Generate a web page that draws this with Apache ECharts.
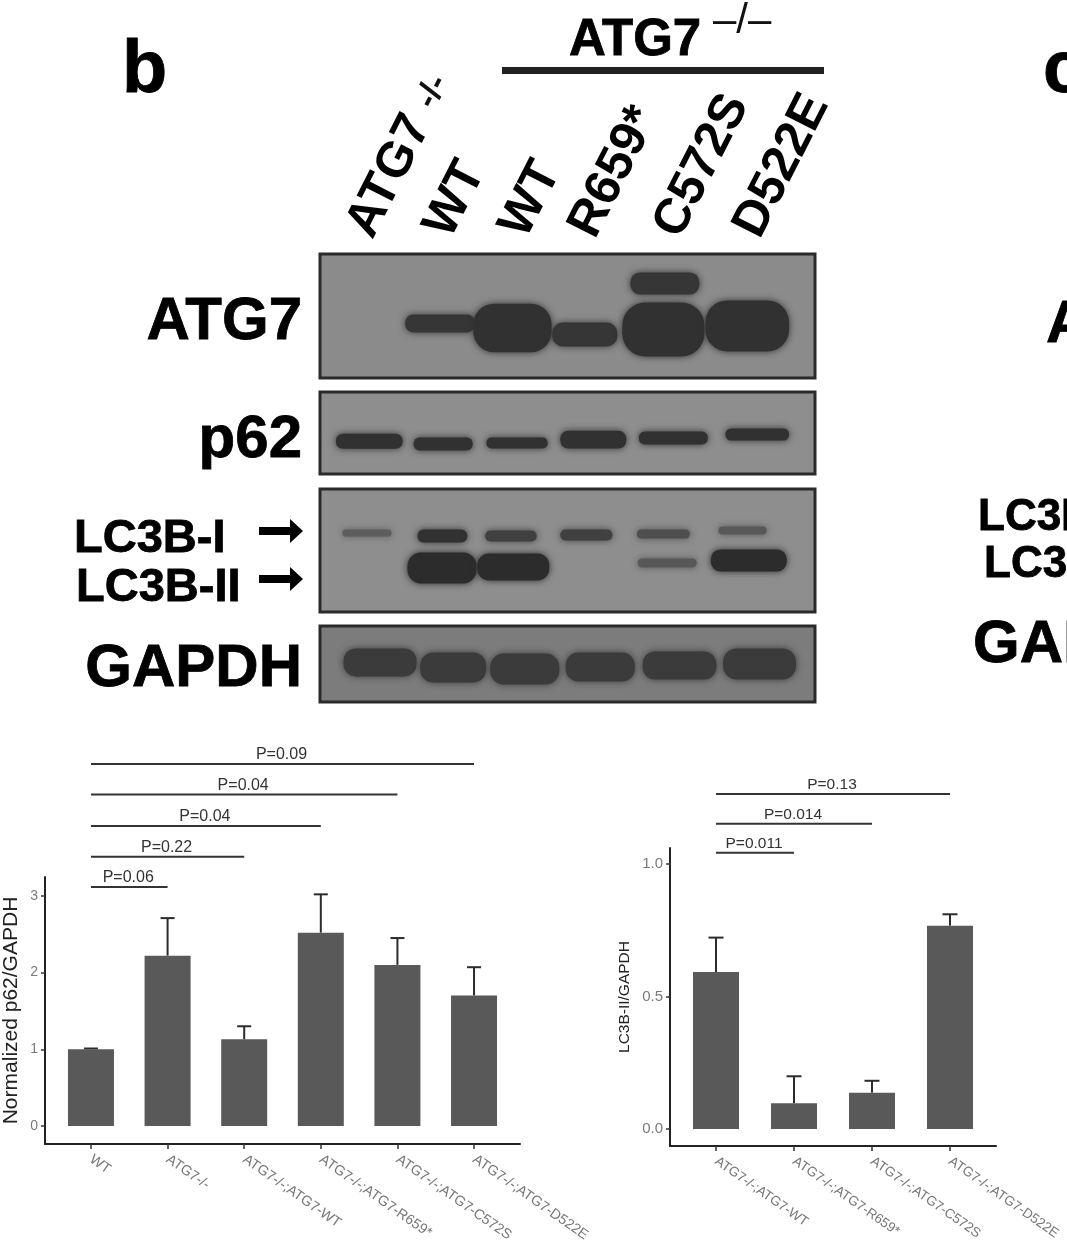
<!DOCTYPE html>
<html><head><meta charset="utf-8">
<script src="https://cdn.jsdelivr.net/npm/echarts@6/dist/echarts.min.js"></script>
<style>html,body{margin:0;padding:0;background:#fff}#c{width:1067px;height:1248px;filter:blur(0.55px)}</style></head>
<body><div id="c"></div>
<script>
// ---- data ----
const laneLabels = ['ATG7 -/-','WT','WT','R659*','C572S','D522E'];
const laneLabelAt = [-0.13,0.88,1.86,2.76,3.86,4.90];

// western-blot bands: lane position, migration (0 top..1 bottom of panel), breadth, thickness, tone
const atg7Lane  = [0.91,1.85,2.79,3.81,3.83,4.90];
const atg7Pos   = [0.56,0.597,0.649,0.609,0.238,0.58];
const atg7Width = [0.92,1.03,0.86,1.08,0.91,1.10];
const atg7Thick = [0.153,0.40,0.20,0.444,0.185,0.42];
const atg7Tone  = [0.9,0.95,0.9,0.95,0.9,0.95];

const p62Lane  = [-0.01,0.95,1.91,2.90,3.94,5.03];
const p62Pos   = [0.60,0.634,0.622,0.58,0.56,0.518];
const p62Width = [0.88,0.78,0.81,0.87,0.91,0.84];
const p62Thick = [0.195,0.17,0.146,0.23,0.17,0.16];
const p62Tone  = [0.95,0.95,0.95,0.95,0.95,0.95];

const lc3Lane  = [-0.04,0.94,1.83,2.81,3.81,4.84,0.935,1.86,3.86,4.92];
const lc3Pos   = [0.358,0.382,0.382,0.374,0.366,0.337,0.642,0.634,0.602,0.581];
const lc3Width = [0.65,0.66,0.68,0.69,0.70,0.64,0.91,0.95,0.78,1.0];
const lc3Thick = [0.065,0.114,0.098,0.098,0.081,0.073,0.26,0.228,0.081,0.187];
const lc3Tone  = [0.5,0.95,0.8,0.8,0.65,0.55,1.0,1.0,0.55,1.0];

const gapdhLane  = [0.13,1.08,2.01,2.99,4.02,5.06];
const gapdhPos   = [0.48,0.546,0.566,0.54,0.52,0.50];
const gapdhWidth = [0.96,0.87,0.91,0.91,0.97,0.96];
const gapdhThick = [0.38,0.41,0.42,0.395,0.38,0.42];
const gapdhTone  = [0.85,0.85,0.85,0.85,0.85,0.85];

// bar chart 1
const p62Categories = ['WT','ATG7-/-','ATG7-/-;ATG7-WT','ATG7-/-;ATG7-R659*','ATG7-/-;ATG7-C572S','ATG7-/-;ATG7-D522E'];
const p62Values = [1.0,2.22,1.13,2.52,2.10,1.70];
const p62Upper  = [1.01,2.71,1.30,3.02,2.45,2.07];
const p62YTicks = [0,1,2,3];
const p62BracketTo = [1,2,3,4,5];
const p62BracketLevel = [3.116,3.51,3.91,4.32,4.72];
const p62BracketText = ['P=0.06','P=0.22','P=0.04','P=0.04','P=0.09'];

// bar chart 2
const lc3Categories = ['ATG7-/-;ATG7-WT','ATG7-/-;ATG7-R659*','ATG7-/-;ATG7-C572S','ATG7-/-;ATG7-D522E'];
const lc3Values = [0.592,0.097,0.137,0.767];
const lc3Upper  = [0.722,0.199,0.182,0.81];
const lc3YTicks = [0,0.5,1.0];
const lc3BracketTo = [1,2,3];
const lc3BracketLevel = [1.042,1.151,1.264];
const lc3BracketText = ['P=0.011','P=0.014','P=0.13'];

// ---- helpers ----
const SANS = '"Liberation Sans", Arial, sans-serif';
function toneColor(t){ const v = Math.round(142 - t*(142-44)); return `rgb(${v},${v},${v})`; }

function blotSeries(idx, lane, pos, width, thick, tone){
  return {
    type:'custom', xAxisIndex:idx, yAxisIndex:idx, silent:true,
    data: lane.map((l,i)=>[l,pos[i]]),
    renderItem(params, api){
      const i = params.dataIndex;
      const c = api.coord([lane[i],pos[i]]);
      const s = api.size([width[i],thick[i]]);
      const col = toneColor(tone[i]);
      return {type:'rect',
        shape:{x:c[0]-s[0]/2+0.5,y:c[1]-s[1]/2+0.5,width:s[0]-1,height:s[1]-1,r:Math.min(s[0],s[1])*0.42},
        style:{fill:col,shadowBlur:7,shadowColor:col}};
    }
  };
}
function errSeries(idx, vals, upper, capHalf){
  return {
    type:'custom', xAxisIndex:idx, yAxisIndex:idx, silent:true, clip:false, z:1,
    data: vals.map((v,i)=>[i,upper[i]]),
    renderItem(params, api){
      const i = params.dataIndex;
      const a = api.coord([i,vals[i]]), b = api.coord([i,upper[i]]);
      const st = {stroke:'#2b2b2b',lineWidth:2,fill:null};
      return {type:'group',children:[
        {type:'line',shape:{x1:a[0],y1:a[1],x2:b[0],y2:b[1]},style:st},
        {type:'line',shape:{x1:b[0]-capHalf,y1:b[1],x2:b[0]+capHalf,y2:b[1]},style:st}
      ]};
    }
  };
}
function bracketSeries(idx, to, level, text, size){
  return {
    type:'custom', xAxisIndex:idx, yAxisIndex:idx, silent:true, clip:false,
    data: to.map((t,i)=>[t,level[i]]),
    renderItem(params, api){
      const i = params.dataIndex;
      const a = api.coord([0,level[i]]), b = api.coord([to[i],level[i]]);
      return {type:'group',children:[
        {type:'line',shape:{x1:a[0],y1:a[1],x2:b[0],y2:b[1]},style:{stroke:'#333',lineWidth:2}},
        {type:'text',x:(a[0]+b[0])/2-1,y:a[1]-1,style:{text:text[i],fill:'#333',font:size+'px '+SANS,textAlign:'center',textVerticalAlign:'bottom'}}
      ]};
    }
  };
}
function blotAxis(i){
  const base = {type:'value',gridIndex:i,min:-0.65,max:5.78,show:false};
  if(i!==0) return base;
  return {type:'value',gridIndex:0,min:-0.65,max:5.78,position:'top',
    axisLine:{show:false},axisTick:{show:false},splitLine:{show:false},
    axisLabel:{customValues:laneLabelAt,rotate:63,margin:20,fontFamily:SANS,fontSize:50,fontWeight:'bold',color:'#000',
      formatter:v=>{const t=laneLabels[laneLabelAt.indexOf(v)];return t.includes(' ')?`{m|${t.split(' ')[0]}} {s|${t.split(' ')[1]}}`:`{m|${t}}`;},
      rich:{m:{fontFamily:SANS,fontSize:50,fontWeight:'bold',color:'#000'},s:{fontFamily:SANS,fontSize:34,color:'#111',fontWeight:'bold'}}}};
}
function barX(i,cats,min,max,ticks,size){
  return {type:'value',gridIndex:i,min,max,splitLine:{show:false},
    axisLine:{onZero:false,lineStyle:{color:'#222',width:2}},
    axisTick:{customValues:ticks,length:5,lineStyle:{color:'#333',width:1.5}},
    axisLabel:{customValues:ticks,rotate:-35,margin:14,fontFamily:SANS,fontSize:size,color:'#777',formatter:v=>cats[v]}};
}
function barY(i,min,max,ticks,name,nameGap,nameSize,dec,labelSize){
  return {type:'value',gridIndex:i,min,max,splitLine:{show:false},
    name,nameLocation:'middle',nameGap,
    nameTextStyle:{fontFamily:SANS,fontSize:nameSize,color:'#222'},
    axisLine:{show:true,onZero:false,lineStyle:{color:'#222',width:2}},
    axisTick:{show:true,customValues:ticks,length:4,lineStyle:{color:'#333',width:1.5}},
    axisLabel:{customValues:ticks,margin:7,fontFamily:SANS,fontSize:labelSize,color:'#7a7a7a',formatter:v=>v.toFixed(dec)}};
}
function arrow(y){
  return {type:'polygon',shape:{points:[[259,y-4],[290,y-4],[290,y-12],[303,y],[290,y+12],[290,y+4],[259,y+4]]},style:{fill:'#000'}};
}
function txt(x,y,text,size,align){
  return {type:'text',x,y,style:{text,font:`bold ${size}px ${SANS}`,fill:'#000',stroke:'#000',lineWidth:0.8,textAlign:align||'left',textVerticalAlign:'middle'}};
}

const panels = [
  {left:320,top:254,width:495,height:124,backgroundColor:'#8b8b8b'},
  {left:320,top:392,width:495,height:82,backgroundColor:'#8e8e8e'},
  {left:320,top:489,width:495,height:123,backgroundColor:'#8e8e8e'},
  {left:320,top:626,width:495,height:76,backgroundColor:'#7c7c7c'}
].map(p=>({...p,show:true,borderColor:'#2a2a2a',borderWidth:3,outerBoundsMode:'none'}));

const option = {
  animation:false,
  backgroundColor:'#fff',
  grid:[...panels,
    {left:45,top:877,width:475,height:267,outerBoundsMode:'none'},
    {left:670,top:848,width:326,height:298,outerBoundsMode:'none'}],
  xAxis:[0,1,2,3].map(blotAxis).concat([
    barX(4,p62Categories,-0.6,5.6,[0,1,2,3,4,5],14.2),
    barX(5,lc3Categories,-0.59,3.59,[0,1,2,3],13.5)]),
  yAxis:[0,1,2,3].map(i=>({type:'value',gridIndex:i,min:0,max:1,inverse:true,show:false})).concat([
    barY(4,-0.235,3.246,p62YTicks,'Normalized p62/GAPDH',23,21,0,14),
    barY(5,-0.064,1.06,lc3YTicks,'LC3B-II/GAPDH',37,15.5,1,15)]),
  series:[
    blotSeries(0,atg7Lane,atg7Pos,atg7Width,atg7Thick,atg7Tone),
    blotSeries(1,p62Lane,p62Pos,p62Width,p62Thick,p62Tone),
    blotSeries(2,lc3Lane,lc3Pos,lc3Width,lc3Thick,lc3Tone),
    blotSeries(3,gapdhLane,gapdhPos,gapdhWidth,gapdhThick,gapdhTone),
    {type:'bar',xAxisIndex:4,yAxisIndex:4,barWidth:46,silent:true,itemStyle:{color:'#595959'},z:2,
      data:p62Values.map((v,i)=>[i,v])},
    errSeries(4,p62Values,p62Upper,7),
    bracketSeries(4,p62BracketTo,p62BracketLevel,p62BracketText,16),
    {type:'bar',xAxisIndex:5,yAxisIndex:5,barWidth:46,silent:true,itemStyle:{color:'#595959'},z:2,
      data:lc3Values.map((v,i)=>[i,v])},
    errSeries(5,lc3Values,lc3Upper,7.5),
    bracketSeries(5,lc3BracketTo,lc3BracketLevel,lc3BracketText,15.5)
  ],
  graphic:[
    txt(122,72,'b',74),
    txt(1043,72,'c',74),
    txt(569,41,'ATG7',51),
    {type:'text',x:713,y:21,style:{text:'\u2013/\u2013',font:'42px '+SANS,fill:'#111',textAlign:'left',textVerticalAlign:'middle'}},
    {type:'rect',shape:{x:502,y:67,width:322,height:7},style:{fill:'#222'}},
    txt(302,322,'ATG7',60,'right'),
    txt(302,440,'p62',60,'right'),
    txt(74,539,'LC3B-I',47),
    txt(76,588,'LC3B-II',47),
    arrow(531),arrow(579),
    txt(302,669,'GAPDH',60,'right'),
    txt(1046,325,'ATG7',60),
    txt(978,518,'LC3B-I',44),
    txt(984,565,'LC3B-II',44),
    txt(973,645,'GAPDH',60)
  ]
};
echarts.init(document.getElementById('c'),null,{renderer:'canvas'}).setOption(option);
</script></body></html>
